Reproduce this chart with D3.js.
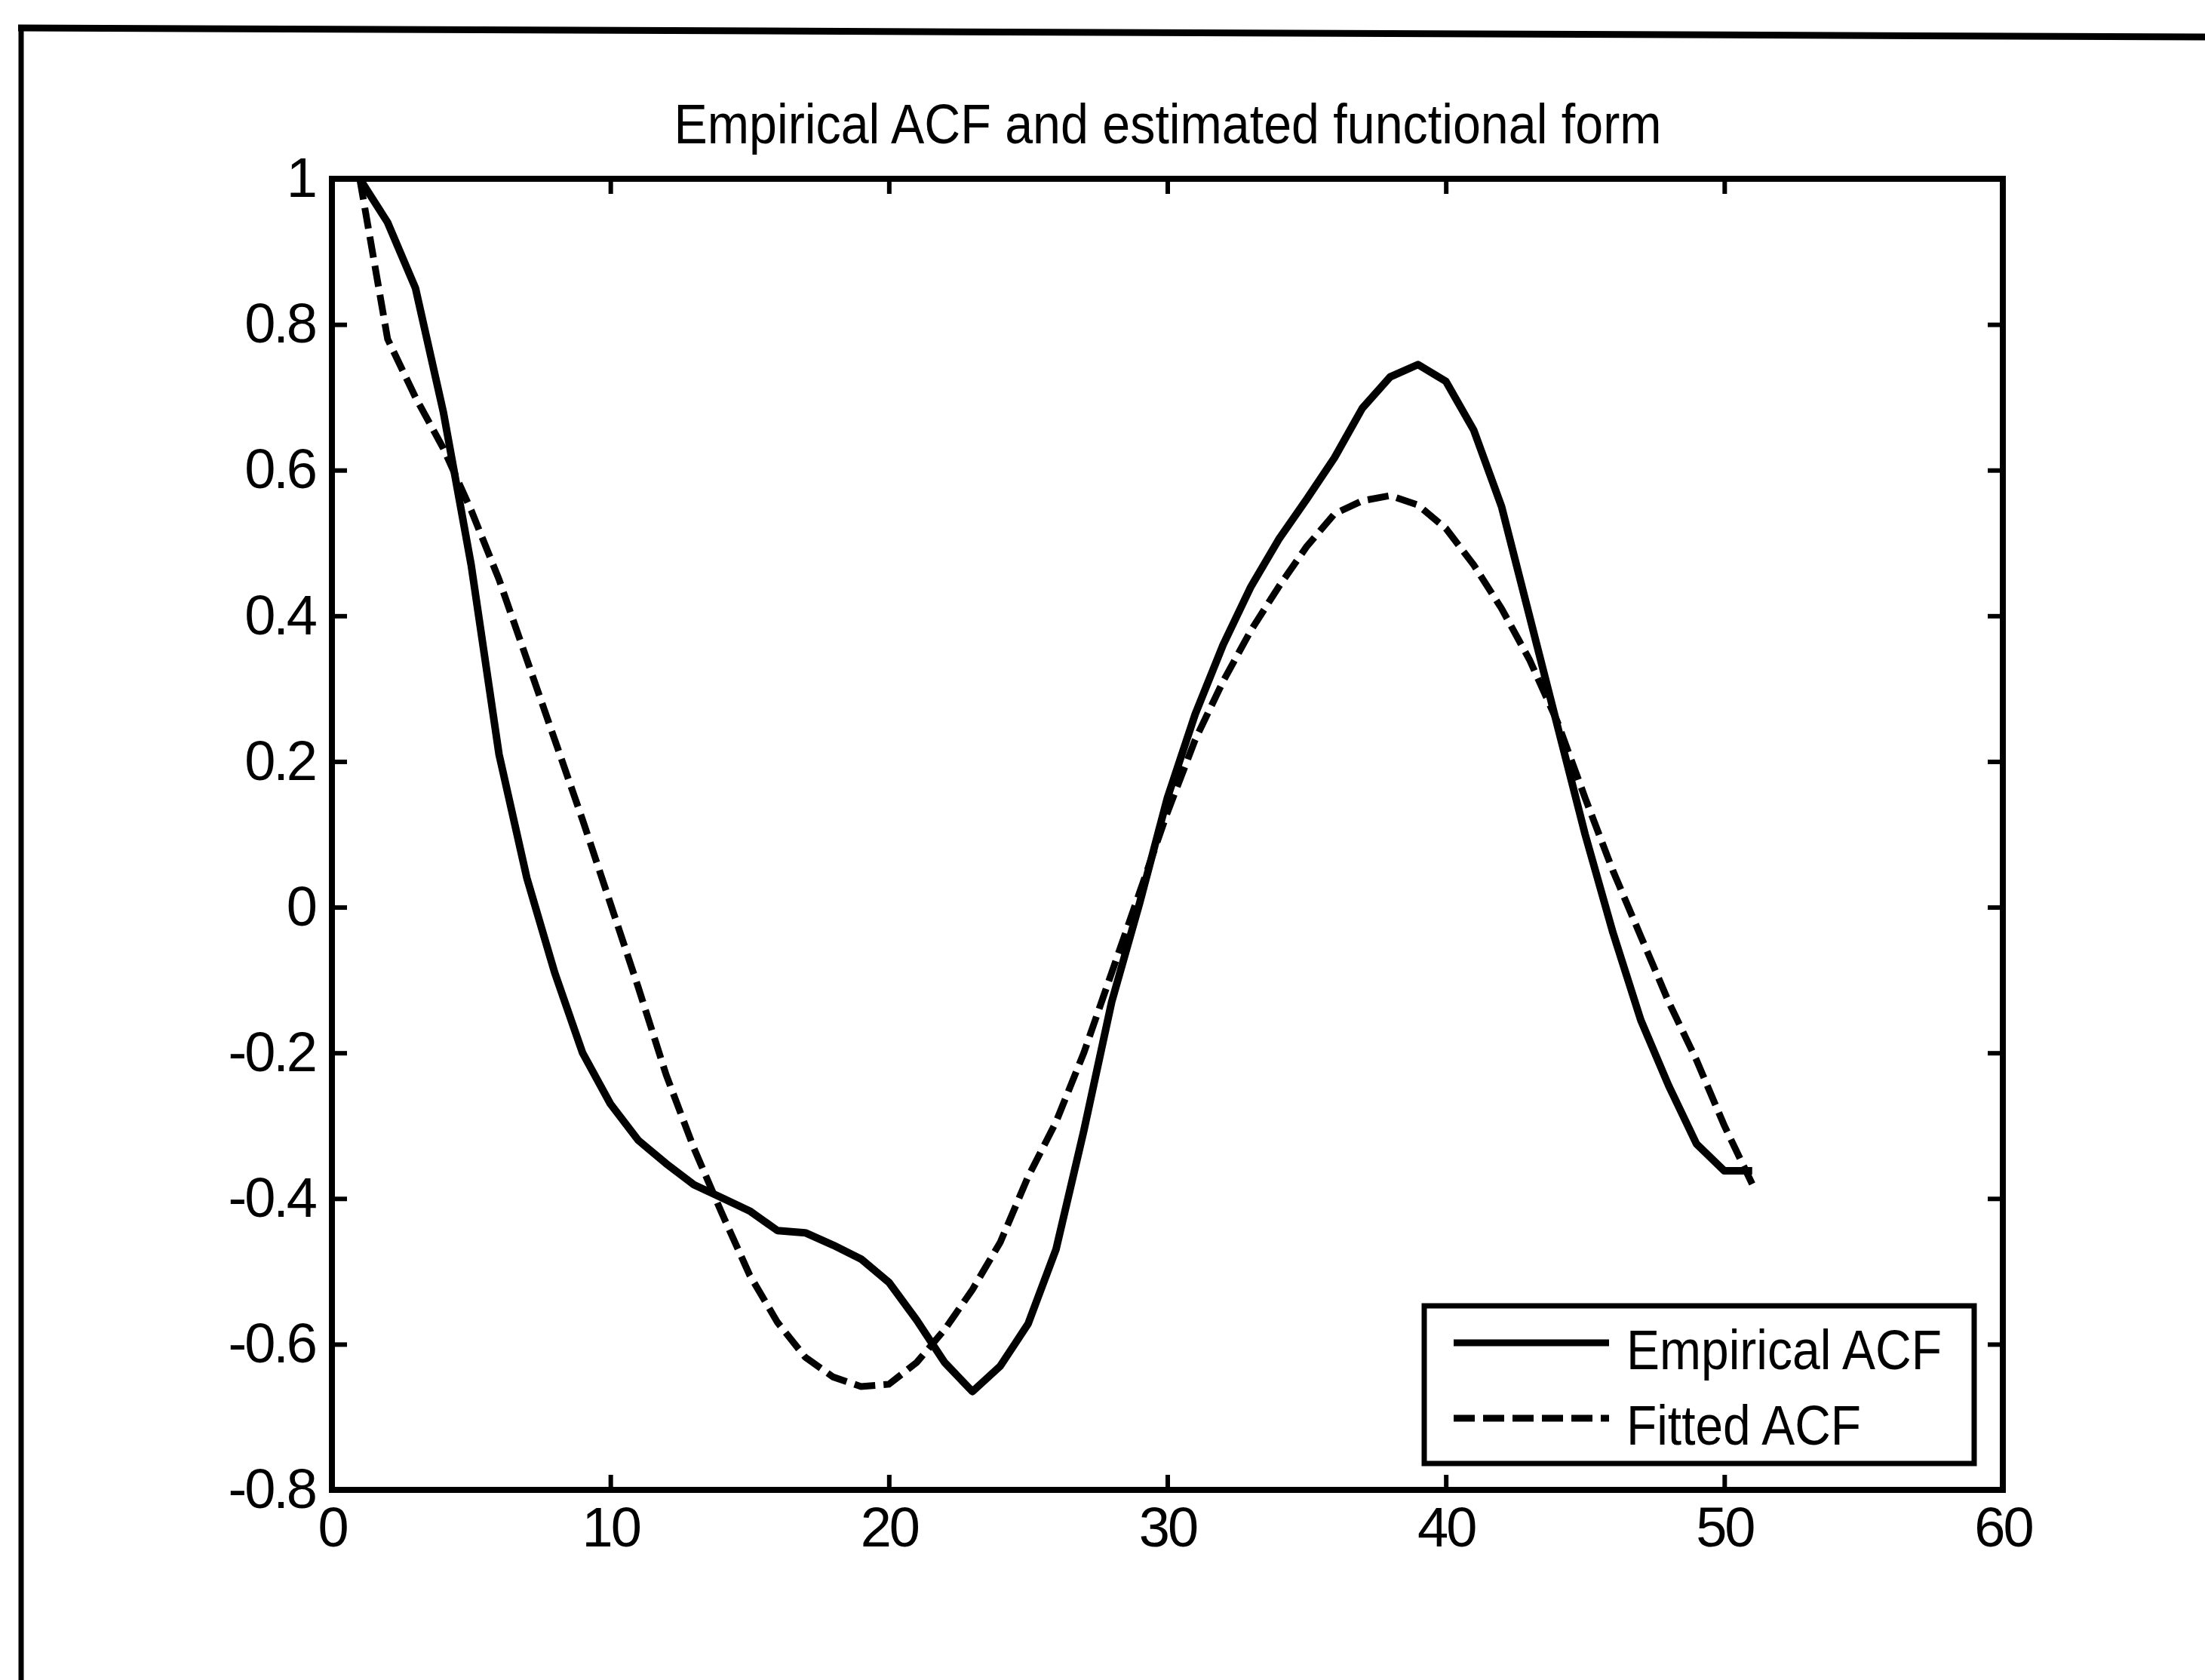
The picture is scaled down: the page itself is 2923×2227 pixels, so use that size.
<!DOCTYPE html>
<html>
<head>
<meta charset="utf-8">
<script src="https://cdn.jsdelivr.net/npm/d3@7"></script>
<style>
body { margin: 0; background: #fff; }
svg text { font-family: "Liberation Sans", Arial, sans-serif; fill: #000; }
</style>
</head>
<body>
<div id="chart"></div>
<script>
// values
const lags = [1, 2, 3, 4, 5, 6, 7, 8, 9, 10, 11, 12, 13, 14, 15, 16, 17, 18, 19, 20,
  21, 22, 23, 24, 25, 26, 27, 28, 29, 30, 31, 32, 33, 34, 35, 36, 37, 38, 39, 40,
  41, 42, 43, 44, 45, 46, 47, 48, 49, 50, 51];
const empirical = [1.0, 0.94, 0.85, 0.68, 0.47, 0.21, 0.04, -0.09, -0.2, -0.27,
  -0.32, -0.352, -0.381, -0.399, -0.417, -0.444, -0.447, -0.464, -0.483, -0.515,
  -0.567, -0.625, -0.665, -0.63, -0.572, -0.47, -0.307, -0.13, 0.005, 0.15,
  0.265, 0.36, 0.44, 0.505, 0.56, 0.617, 0.685, 0.728, 0.745, 0.722,
  0.655, 0.55, 0.40, 0.25, 0.1, -0.035, -0.155, -0.245, -0.325, -0.362, -0.362];
const fitted = [1.0, 0.78, 0.70, 0.63, 0.545, 0.45, 0.34, 0.23, 0.12, 0.005,
  -0.11, -0.23, -0.331, -0.42, -0.505, -0.57, -0.618, -0.645, -0.658, -0.655,
  -0.625, -0.58, -0.525, -0.46, -0.37, -0.295, -0.2, -0.09, 0.02, 0.13,
  0.23, 0.31, 0.38, 0.44, 0.495, 0.54, 0.558, 0.565, 0.552, 0.52,
  0.47, 0.41, 0.34, 0.255, 0.15, 0.05, -0.04, -0.13, -0.21, -0.30, -0.38];
const xTicks = [0, 10, 20, 30, 40, 50, 60];
const yTicks = [-0.8, -0.6, -0.4, -0.2, 0, 0.2, 0.4, 0.6, 0.8, 1];
const seriesNames = ["Empirical ACF", "Fitted ACF"];
const title = "Empirical ACF and estimated functional form";

const W = 2923, H = 2227;
const box = {left: 440, right: 2655, top: 237, bottom: 1975};
const fs = 74;
const dash = "28,11";

const svg = d3.select("#chart").append("svg")
  .attr("width", W).attr("height", H);

// scanned page frame
svg.append("line").attr("x1", 24).attr("y1", 37).attr("x2", W).attr("y2", 49)
  .attr("stroke", "#000").attr("stroke-width", 9);
svg.append("line").attr("x1", 28).attr("y1", 34).attr("x2", 28).attr("y2", H)
  .attr("stroke", "#000").attr("stroke-width", 7);

const x = d3.scaleLinear().domain([0, 60]).range([box.left, box.right]);
const y = d3.scaleLinear().domain([-0.8, 1]).range([box.bottom, box.top]);

const fmt = d => String(+d.toFixed(1));

function styleAxis(g) {
  g.select(".domain").remove();
  g.selectAll(".tick line").attr("stroke", "#000").attr("stroke-width", 6);
  g.selectAll(".tick text").attr("font-size", fs).attr("font-family", null)
    .attr("fill", "#000").attr("letter-spacing", -3);
}

svg.append("g").attr("transform", `translate(0,${box.bottom})`)
  .call(d3.axisBottom(x).tickValues(xTicks).tickFormat(fmt).tickSizeInner(-20).tickSizeOuter(0).tickPadding(22))
  .call(styleAxis);
svg.append("g").attr("transform", `translate(0,${box.top})`)
  .call(d3.axisTop(x).tickValues(xTicks).tickFormat("").tickSizeInner(-20).tickSizeOuter(0))
  .call(styleAxis);
svg.append("g").attr("transform", `translate(${box.left},0)`)
  .call(d3.axisLeft(y).tickValues(yTicks).tickFormat(fmt).tickSizeInner(-20).tickSizeOuter(0).tickPadding(22))
  .call(styleAxis);
svg.append("g").attr("transform", `translate(${box.right},0)`)
  .call(d3.axisRight(y).tickValues(yTicks).tickFormat("").tickSizeInner(-20).tickSizeOuter(0))
  .call(styleAxis);

svg.append("rect")
  .attr("x", box.left).attr("y", box.top)
  .attr("width", box.right - box.left).attr("height", box.bottom - box.top)
  .attr("fill", "none").attr("stroke", "#000").attr("stroke-width", 8);

const line = d3.line().x(d => x(d[0])).y(d => y(d[1]));
svg.append("path")
  .datum(lags.map((l, i) => [l, empirical[i]]))
  .attr("d", line).attr("fill", "none").attr("stroke", "#000")
  .attr("stroke-width", 10).attr("stroke-linejoin", "round");
svg.append("path")
  .datum(lags.map((l, i) => [l, fitted[i]]))
  .attr("d", line).attr("fill", "none").attr("stroke", "#000")
  .attr("stroke-width", 9).attr("stroke-dasharray", dash);

// title
svg.append("text")
  .attr("x", 1548).attr("y", 190)
  .attr("text-anchor", "middle").attr("font-size", fs)
  .attr("textLength", 1309).attr("lengthAdjust", "spacingAndGlyphs")
  .text(title);

// legend
const lg = svg.append("g");
lg.append("rect").attr("x", 1888).attr("y", 1731).attr("width", 729).attr("height", 209)
  .attr("fill", "#fff").attr("stroke", "#000").attr("stroke-width", 7);
const rows = [
  {name: seriesNames[0], yy: 1780, dash: null, w: 418},
  {name: seriesNames[1], yy: 1880, dash: dash, w: 311}
];
rows.forEach(r => {
  lg.append("line").attr("x1", 1927).attr("x2", 2133).attr("y1", r.yy).attr("y2", r.yy)
    .attr("stroke", "#000").attr("stroke-width", 9).attr("stroke-dasharray", r.dash);
  lg.append("text").attr("x", 2156).attr("y", r.yy + 35)
    .attr("font-size", fs).attr("textLength", r.w).attr("lengthAdjust", "spacingAndGlyphs")
    .text(r.name);
});
</script>
</body>
</html>
